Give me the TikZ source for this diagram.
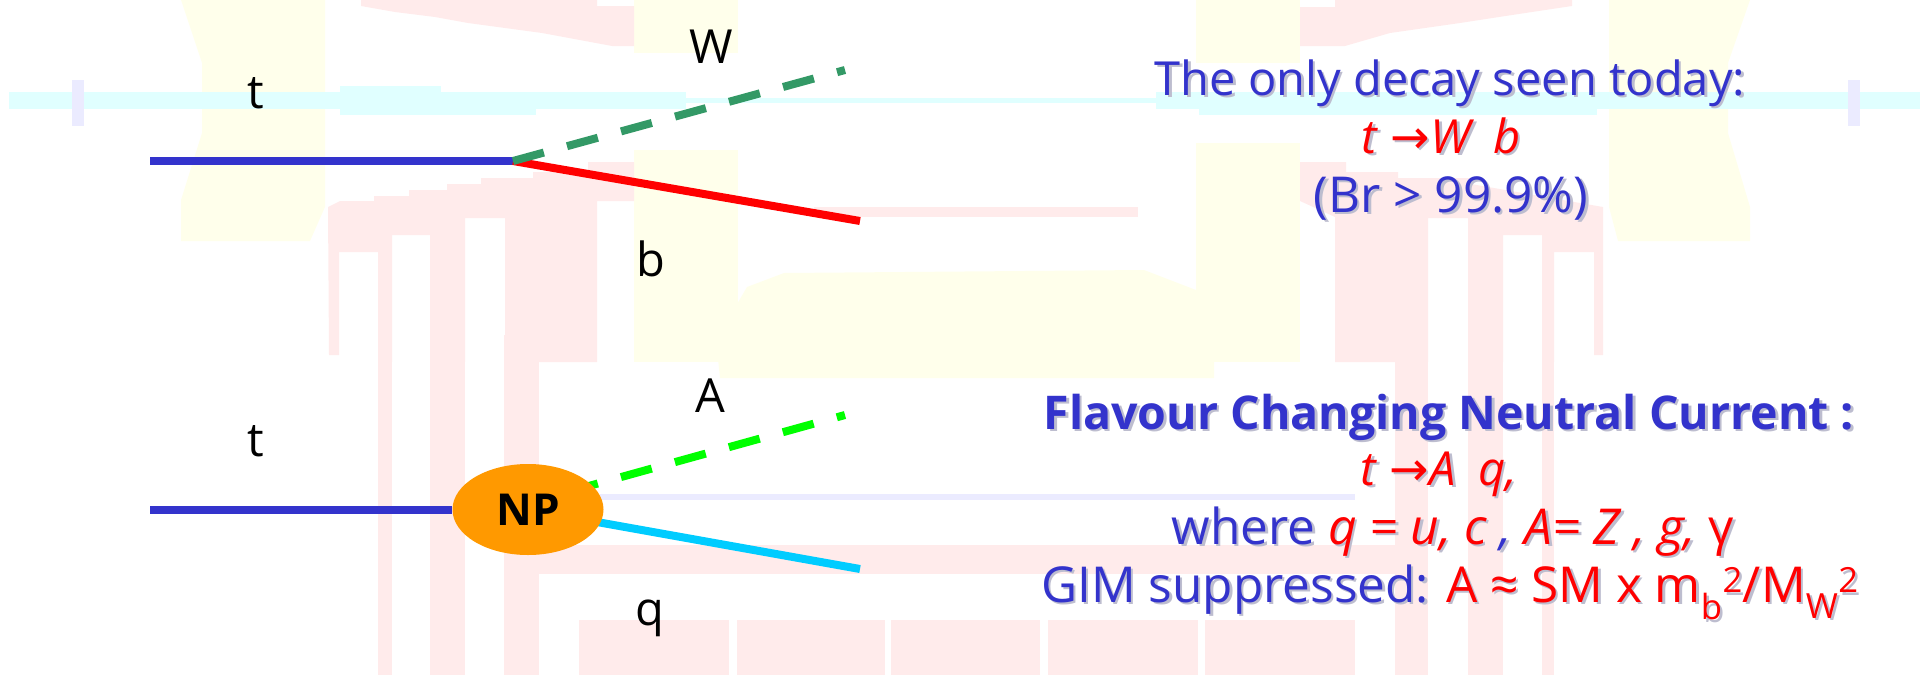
\documentclass[tikz,border=0pt]{standalone}
\usepackage{fontspec}
\setmainfont{Open Sans}
\newfontfamily\arrowfont{DejaVu Sans}
\usetikzlibrary{positioning,shapes.geometric}
\definecolor{topblue}{HTML}{3333CC}
\definecolor{wgreen}{HTML}{339966}
\definecolor{agreen}{HTML}{00FF00}
\definecolor{qcyan}{HTML}{00CCFF}
\definecolor{nporange}{HTML}{FF9900}
\definecolor{pinkbg}{HTML}{FFEBEB}
\definecolor{yellowbg}{HTML}{FFFFEB}
\definecolor{cyanbg}{HTML}{E0FFFF}
\definecolor{lilacbg}{HTML}{EBEBFF}
\definecolor{shadowgray}{HTML}{BDBDCF}
\def\rdcol{red}
\newcommand{\rd}[1]{{\color{\rdcol}#1}}
\newcommand{\shtext}[1]{\rlap{\raisebox{-2.5pt}{\kern2.5pt\def\rdcol{shadowgray}\color{shadowgray}#1}}#1}
\newcommand{\decayto}{\hspace{13pt}{\upshape\arrowfont →}\hspace{1pt}}
\tikzset{
  partlabel/.style={font=\fontsize{47}{47}\selectfont,text=black,anchor=center,inner sep=0pt},
  textline/.style={font=\fontsize{47}{47}\selectfont,text=topblue,anchor=base,inner sep=0pt},
  largeline/.style={font=\fontsize{49.5}{49.5}\selectfont,text=topblue,anchor=base,inner sep=0pt},
  wideline/.style={font=\fontsize{46.5}{46.5}\selectfont\bfseries,text=topblue,anchor=base,inner sep=0pt},
  fermion/.style={line width=8pt},
  boson/.style={line width=8pt,dash pattern=on 32pt off 24pt}
}
\begin{document}
\begin{tikzpicture}[x=1pt,y=-1pt]
  \useasboundingbox (0,0) rectangle (1922,675);
  % detector in the background
  \fill[yellowbg] (181,0) -- (202,63) -- (202,133) -- (181,200) -- (181,241) -- (310,241) -- (325,207) -- (325,0) -- cycle;
  \fill[yellowbg] (1609,0) -- (1750,0) -- (1728,63) -- (1728,133) -- (1750,207) -- (1750,241) -- (1618,241) -- (1609,207) -- cycle;
  \fill[yellowbg] (634,0) rectangle (738,53);
  \fill[yellowbg] (634,150) rectangle (738,362);
  \fill[yellowbg] (1196,0) rectangle (1300,63);
  \fill[yellowbg] (1196,143) rectangle (1300,362);
  \fill[yellowbg] (716,340) -- (747,287) -- (784,273) -- (1144,270) -- (1196,290) -- (1214,340) -- (1214,378) -- (720,378) -- cycle;
  \foreach \xa/\ya/\xb/\yb in {9/92/686/109, 686/98/1156/103, 1156/92/1920/109, 340/86/441/115, 340/109/536/115, 1199/109/1597/115}{
    \fill[cyanbg] (\xa,\ya) rectangle (\xb,\yb);}
  \foreach \xa in {72,1848}{
    \fill[lilacbg] (\xa,80) rectangle ++(12,46);}
  \fill[pinkbg] (361,0) -- (597,0) -- (597,6) -- (634,6) -- (634,46) -- (612,46) -- (542,33) -- (468,23) -- (435,17) -- (395,12) -- (361,6) -- cycle;
  \fill[pinkbg] (1300,46) -- (1300,7) -- (1335,7) -- (1335,0) -- (1572,0) -- (1572,6) -- (1532,12) -- (1499,17) -- (1460,23) -- (1390,33) -- (1345,46) -- cycle;
  \fill[pinkbg] (328,207) -- (340,201) -- (374,201) -- (374,196) -- (409,196) -- (409,190) -- (447,190) -- (447,184) -- (481,184) -- (481,178) -- (533,178) -- (533,172) -- (588,172) -- (588,162) -- (634,162) -- (634,201) -- (597,201) -- (597,362) -- (505,362) -- (505,218) -- (465,218) -- (465,362) -- (430,362) -- (430,235) -- (392,235) -- (392,362) -- (378,362) -- (378,252) -- (339,252) -- (339,355) -- (329,355) -- cycle;
  \fill[pinkbg] (1300,162) -- (1346,162) -- (1346,172) -- (1398,172) -- (1398,178) -- (1471,178) -- (1471,184) -- (1603,207) -- (1603,355) -- (1594,355) -- (1594,252) -- (1554,252) -- (1554,362) -- (1542,362) -- (1542,235) -- (1503,235) -- (1503,362) -- (1468,362) -- (1468,218) -- (1428,218) -- (1428,362) -- (1335,362) -- (1335,217) -- (1300,201) -- cycle;
  \foreach \xa/\xb in {378/392, 430/465, 504/539, 1395/1428, 1468/1503, 1542/1554}{
    \fill[pinkbg] (\xa,335) rectangle (\xb,675);}
  \fill[pinkbg] (814,207) rectangle (1138,217);
  \fill[pinkbg] (539,545) rectangle (1395,574);
  \foreach \xa/\xb in {579/729, 737/885, 891/1040, 1048/1198, 1205/1355}{
    \fill[pinkbg] (\xa,620) rectangle (\xb,675);}
  \fill[lilacbg] (600,494) rectangle (1355,500);
  % dominant decay
  \coordinate (topin) at (150,161);
  \coordinate (topvx) at (513,161);
  \coordinate (wend) at (845,70);
  \coordinate (bend) at (860,221);
  \draw[fermion,topblue] (topin) -- (topvx);
  \draw[fermion,red] (topvx) -- (bend);
  \draw[boson,wgreen] (topvx) -- (wend);
  \node[partlabel] (tupper) at (256,93) {t};
  \node[partlabel] (wlabel) at (711,47) {W};
  \node[partlabel] (blabel) at (651,259) {b};
  % FCNC decay
  \coordinate (fcin) at (150,509.5);
  \coordinate (fcvx) at (513,507);
  \coordinate (aend) at (845,415);
  \coordinate (qend) at (860,569);
  \draw[boson,agreen] (fcvx) -- (aend);
  \draw[fermion,qcyan] (fcvx) -- (qend);
  \node[ellipse,fill=nporange,minimum width=151pt,minimum height=91pt,inner sep=0pt,font=\fontsize{44}{44}\selectfont\bfseries] (np) at (528,509.5) {NP};
  \draw[fermion,topblue] (fcin) -- (np);
  \node[partlabel] (tlower) at (256,441) {t};
  \node[partlabel] (alabel) at (710,396) {A};
  \node[partlabel] (qlabel) at (650,618) {q};
  % text on the right
  \node[textline] (seen) at (1450,95) {\shtext{The only decay seen today:}};
  \node[textline] (wbdecay) at (1441,153) {\shtext{\rd{\itshape t\decayto W\hspace{10pt} b}}};
  \node[largeline] (brline) at (1451,212) {\shtext{(Br > 99.9\%)}};
  \node[wideline] (fcnc) at (1449,429) {\shtext{Flavour Changing Neutral Current :}};
  \node[textline] (aqdecay) at (1439,485) {\shtext{\rd{\itshape t\decayto A\hspace{10pt} q,}}};
  \node[largeline] (where) at (1453,544) {\shtext{where \rd{\itshape q = u, c} {\itshape,} \rd{\itshape A= Z , g,} \rd{γ}}};
  \node[largeline] (gim) at (1450,602) {\shtext{GIM suppressed: \rd{A ≈ SM x m\textsubscript{b}\textsuperscript{2}/M\textsubscript{W}\textsuperscript{2}}}};
\end{tikzpicture}
\end{document}
